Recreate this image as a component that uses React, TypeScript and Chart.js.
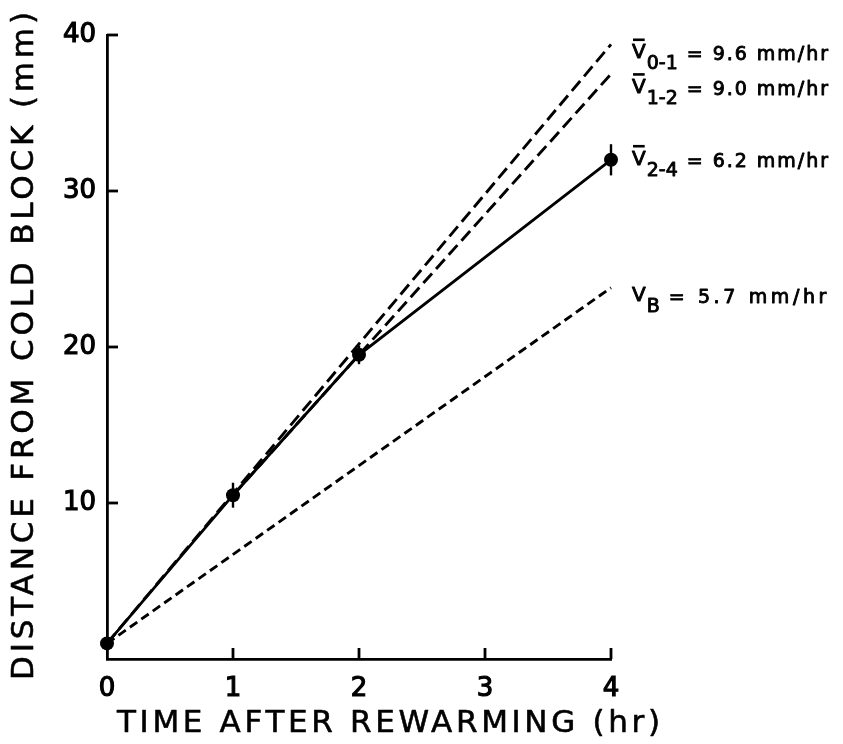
import { useEffect, useRef } from 'react';
import { Chart, registerables } from 'chart.js';

Chart.register(...registerables);

// ---- data ----
const timeHr = [0, 1, 2, 4];
const distanceMm = [1.0, 10.5, 19.5, 32.0];
const distanceErr = [0, 0.8, 0.6, 1.0];

const v01X = [0, 4];
const v01Y = [1.0, 39.4];
const v12X = [1, 4];
const v12Y = [10.5, 37.5];
const vBX = [0, 4];
const vBY = [1.0, 23.8];

const xTickValues = [0, 1, 2, 3, 4];
const yTickValues = [10, 20, 30, 40];

const rateSubs = ['0-1', '1-2', '2-4', 'B'];
const rateValues = ['9.6', '9.0', '6.2', '5.7'];
const rateBars = [true, true, true, false];

const xTitle = 'TIME AFTER REWARMING (hr)';
const yTitle = 'DISTANCE FROM COLD BLOCK (mm)';

const FONT = '"DejaVu Sans", sans-serif';

function spacedText(ctx: CanvasRenderingContext2D, text: string, x: number, y: number, target: number, stroke: number) {
  (ctx as any).letterSpacing = '0px';
  const w = ctx.measureText(text).width;
  const sp = (target - w) / (text.length - 1);
  (ctx as any).letterSpacing = sp + 'px';
  ctx.fillText(text, x, y);
  ctx.lineWidth = stroke;
  ctx.strokeText(text, x, y);
  (ctx as any).letterSpacing = '0px';
}

function boldText(ctx: CanvasRenderingContext2D, text: string, x: number, y: number, stroke: number) {
  ctx.fillText(text, x, y);
  ctx.lineWidth = stroke;
  ctx.strokeText(text, x, y);
}

export default function App() {
  const ref = useRef<HTMLCanvasElement>(null);

  useEffect(() => {
    const canvas = ref.current!;

    const decorPlugin = {
      id: 'decor',
      afterDraw(chart: any) {
        const ctx: CanvasRenderingContext2D = chart.ctx;
        const xs = chart.scales.x;
        const ys = chart.scales.y;
        const area = chart.chartArea;
        ctx.save();
        ctx.strokeStyle = '#000';
        ctx.fillStyle = '#000';
        ctx.lineJoin = 'round';
        ctx.lineWidth = 2.8;
        // inward tick marks
        xTickValues.forEach((v) => {
          if (v === 0) return;
          const px = xs.getPixelForValue(v);
          ctx.beginPath();
          ctx.moveTo(px, area.bottom);
          ctx.lineTo(px, area.bottom - 11);
          ctx.stroke();
        });
        yTickValues.forEach((v) => {
          const py = ys.getPixelForValue(v);
          ctx.beginPath();
          ctx.moveTo(area.left, py);
          ctx.lineTo(area.left + 11, py);
          ctx.stroke();
        });

        // axis titles
        ctx.textAlign = 'left';
        ctx.textBaseline = 'alphabetic';
        ctx.font = `31px ${FONT}`;
        spacedText(ctx, xTitle, area.left + 10, 732, 543, 0.6);
        ctx.save();
        ctx.translate(33, 680);
        ctx.rotate(-Math.PI / 2);
        spacedText(ctx, yTitle, 0, 0, 668, 0.6);
        ctx.restore();

        // rate annotations
        const anchors = [v01Y[1], v12Y[1], distanceMm[3], vBY[1]];
        const offsets = [16, 21, 7, 15];
        anchors.forEach((val, i) => {
          const base = ys.getPixelForValue(val) + offsets[i];
          const x0 = area.right + 21;
          ctx.font = `20px ${FONT}`;
          boldText(ctx, 'V', x0, base - 2, 0.9);
          const vw = ctx.measureText('V').width;
          if (rateBars[i]) {
            ctx.lineWidth = 2.6;
            ctx.beginPath();
            ctx.moveTo(x0 + 1, base - 2 - 20 * 0.729 - 4);
            ctx.lineTo(x0 + vw - 1, base - 2 - 20 * 0.729 - 4);
            ctx.stroke();
          }
          ctx.font = `19px ${FONT}`;
          boldText(ctx, rateSubs[i], x0 + vw + 1, base + 9, 0.9);
          const sw = ctx.measureText(rateSubs[i]).width;
          const start = x0 + vw + sw + 10;
          const rest = '= ' + rateValues[i] + ' mm/hr';
          (ctx as any).letterSpacing = '0px';
          const restW = ctx.measureText(rest).width;
          const sp = Math.max(0, (830 - start - restW) / rest.length);
          (ctx as any).letterSpacing = sp + 'px';
          boldText(ctx, rest, start, base, 0.9);
          (ctx as any).letterSpacing = '0px';
        });
        ctx.restore();
      },
      afterDatasetsDraw(chart: any) {
        const ctx: CanvasRenderingContext2D = chart.ctx;
        const xs = chart.scales.x;
        const ys = chart.scales.y;
        ctx.save();
        ctx.strokeStyle = '#000';
        ctx.lineWidth = 2.4;
        timeHr.forEach((t, i) => {
          const e = distanceErr[i];
          if (!e) return;
          const px = xs.getPixelForValue(t);
          ctx.beginPath();
          ctx.moveTo(px, ys.getPixelForValue(distanceMm[i] - e));
          ctx.lineTo(px, ys.getPixelForValue(distanceMm[i] + e));
          ctx.stroke();
        });
        ctx.restore();
      },
    };

    const lineDs = (xv: number[], yv: number[], dash: number[]) => ({
      data: xv.map((x, i) => ({ x, y: yv[i] })),
      borderColor: '#000',
      borderWidth: 2.9,
      borderDash: dash,
      borderCapStyle: 'butt' as const,
      pointRadius: 0,
      fill: false,
      clip: false as any,
      order: 2,
    });

    const tickFont = { family: FONT, size: 26 };

    const chart = new Chart(canvas, {
      type: 'line',
      data: {
        datasets: [
          lineDs(v01X, v01Y, [13, 6]),
          lineDs(v12X, v12Y, [13, 6]),
          lineDs(vBX, vBY, [9, 5]),
          {
            data: timeHr.map((x, i) => ({ x, y: distanceMm[i] })),
            borderColor: '#000',
            borderWidth: 2.8,
            pointRadius: 7,
            pointBackgroundColor: '#000',
            pointBorderColor: '#000',
            pointBorderWidth: 0,
            fill: false,
            clip: false as any,
            order: 0,
          },
        ],
      },
      options: {
        responsive: false,
        animation: false,
        layout: { padding: { left: 0, top: 35, right: 232, bottom: 0 } },
        plugins: { legend: { display: false }, tooltip: { enabled: false } },
        scales: {
          x: {
            type: 'linear',
            min: 0,
            max: 4,
            afterBuildTicks: (s: any) => {
              s.ticks = xTickValues.map((v) => ({ value: v }));
            },
            afterFit: (s: any) => {
              s.height = 85;
            },
            grid: { display: false, drawTicks: false },
            border: { display: true, color: '#000', width: 2.8 },
            ticks: {
              padding: 15,
              color: '#000',
              autoSkip: false,
              maxRotation: 0,
              font: tickFont,
              textStrokeColor: '#000',
              textStrokeWidth: 1.2,
            },
          },
          y: {
            type: 'linear',
            min: 0,
            max: 40,
            afterBuildTicks: (s: any) => {
              s.ticks = yTickValues.map((v) => ({ value: v }));
            },
            afterFit: (s: any) => {
              s.width = 107;
            },
            grid: { display: false, drawTicks: false },
            border: { display: true, color: '#000', width: 2.8 },
            ticks: {
              padding: 11,
              color: '#000',
              autoSkip: false,
              font: tickFont,
              textStrokeColor: '#000',
              textStrokeWidth: 1.2,
            },
          },
        },
      },
      plugins: [decorPlugin],
    });
    return () => chart.destroy();
  }, []);

  return (
    <div style={{ position: 'absolute', left: 0, top: 0, width: 843, height: 744, background: '#fff' }}>
      <canvas ref={ref} width={843} height={744} style={{ display: 'block' }} />
    </div>
  );
}
